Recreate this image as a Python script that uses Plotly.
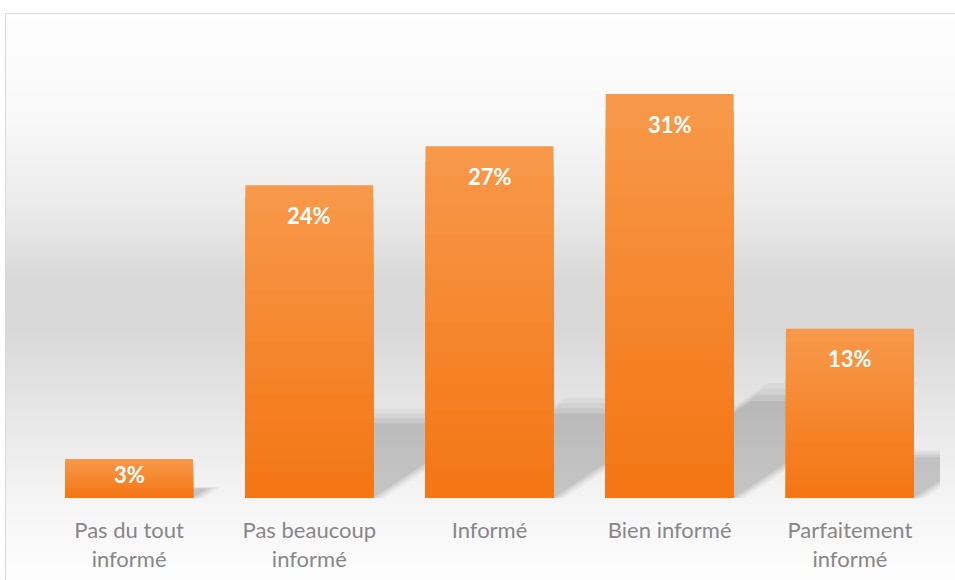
import plotly.graph_objects as go

# ---- data ----
categories = ["Pas du tout<br>informé", "Pas beaucoup<br>informé", "Informé",
              "Bien informé", "Parfaitement<br>informé"]
values = [3, 24, 27, 31, 13]
labels = [f"{v}%" for v in values]

# ---- layout constants ----
W, H = 955, 580
M_L, M_R, M_T, M_B = 39, 15, 42, 82
PW, PH = W - M_L - M_R, H - M_T - M_B
Y_MAX = 35
PX_PER_UNIT = PH / Y_MAX
CAT_PX = PW / len(categories)

def px_x(px):
    return (px - M_L) / PW

def px_y(py):
    return 1 - (py - M_T) / PH

TOP_C = (247, 152, 74)
BOT_C = (244, 118, 20)

def lerp(a, b, t):
    return tuple(round(a[i] + (b[i] - a[i]) * t) for i in range(3))

def rgb(c):
    return f"rgb({c[0]},{c[1]},{c[2]})"

fig = go.Figure()

# gradient bars via overlaid bars of decreasing height
N = 24
for k in range(N):
    frac = (N - k) / N
    col = lerp(TOP_C, BOT_C, k / (N - 1))
    fig.add_trace(go.Bar(
        x=list(range(len(categories))),
        y=[v * frac for v in values],
        marker=dict(color=rgb(col), line=dict(width=0)),
        width=0.71,
        hoverinfo="skip",
        showlegend=False,
    ))

shapes = []
# background gradient (pixel positions converted to paper coordinates)
stops = [(13, 254), (120, 248), (200, 236), (285, 216), (330, 217),
         (400, 228), (470, 240), (510, 246), (560, 251), (580, 253)]
def bg_at(y):
    for (y0, c0), (y1, c1) in zip(stops, stops[1:]):
        if y0 <= y <= y1:
            t = (y - y0) / (y1 - y0)
            return round(c0 + (c1 - c0) * t)
    return stops[-1][1]

STEP = 4
y = 13
while y < H:
    c = bg_at(y + STEP / 2)
    shapes.append(dict(type="rect", xref="paper", yref="paper",
                       x0=px_x(5), x1=px_x(W + 5), y0=px_y(y + STEP + 0.5), y1=px_y(y),
                       fillcolor=f"rgb({c},{c},{c})", line=dict(width=0), layer="below"))
    y += STEP

# border of chart area
shapes.append(dict(type="rect", xref="paper", yref="paper",
                   x0=px_x(5.5), x1=px_x(W + 10), y0=px_y(H + 10), y1=px_y(13.5),
                   line=dict(color="#d9d9d9", width=1), fillcolor="rgba(0,0,0,0)",
                   layer="below"))

# perspective shadows behind bars (layers for blur)
half = 0.71 / 2
for i, v in enumerate(values):
    h_px = v * PX_PER_UNIT
    for j, (sh, op) in enumerate([(0.285, 0.035), (0.27, 0.045), (0.255, 0.055), (0.24, 0.065)]):
        top = sh * v
        dx = 1.5 * sh * h_px / CAT_PX
        grow = (3 - j) * 0.02
        path = (f"M {i - half},0 L {i + half + grow},0 "
                f"L {i + half + dx + grow},{top} L {i - half + dx - grow},{top} Z")
        shapes.append(dict(type="path", xref="x", yref="y", path=path,
                           fillcolor=f"rgba(0,0,0,{op})", line=dict(width=0),
                           layer="below"))

# data labels
annotations = []
for i, (v, t) in enumerate(zip(values, labels)):
    h_px = v * PX_PER_UNIT
    off = min(30, h_px * 0.39)
    annotations.append(dict(x=i, y=v, xref="x", yref="y", text=f"<b>{t}</b>",
                            showarrow=False, yshift=-off, yanchor="middle",
                            font=dict(family="Lato", size=22, color="white")))

fig.update_layout(
    width=W, height=H,
    margin=dict(l=M_L, r=M_R, t=M_T, b=M_B, autoexpand=False),
    paper_bgcolor="white",
    plot_bgcolor="rgba(0,0,0,0)",
    barmode="overlay",
    shapes=shapes,
    annotations=annotations,
    showlegend=False,
    xaxis=dict(tickmode="array", tickvals=list(range(len(categories))),
               ticktext=categories, range=[-0.5, len(categories) - 0.5],
               showgrid=False, zeroline=False, showline=False, ticks="",
               tickfont=dict(family="Lato", size=22, color="#878787"),
               ticklabelstandoff=17, automargin=False),
    yaxis=dict(range=[0, Y_MAX], visible=False, showgrid=False, zeroline=False,
               automargin=False),
)

fig.write_html("out.html", config={"displayModeBar": False},
               post_script="document.body.style.margin='0';")
